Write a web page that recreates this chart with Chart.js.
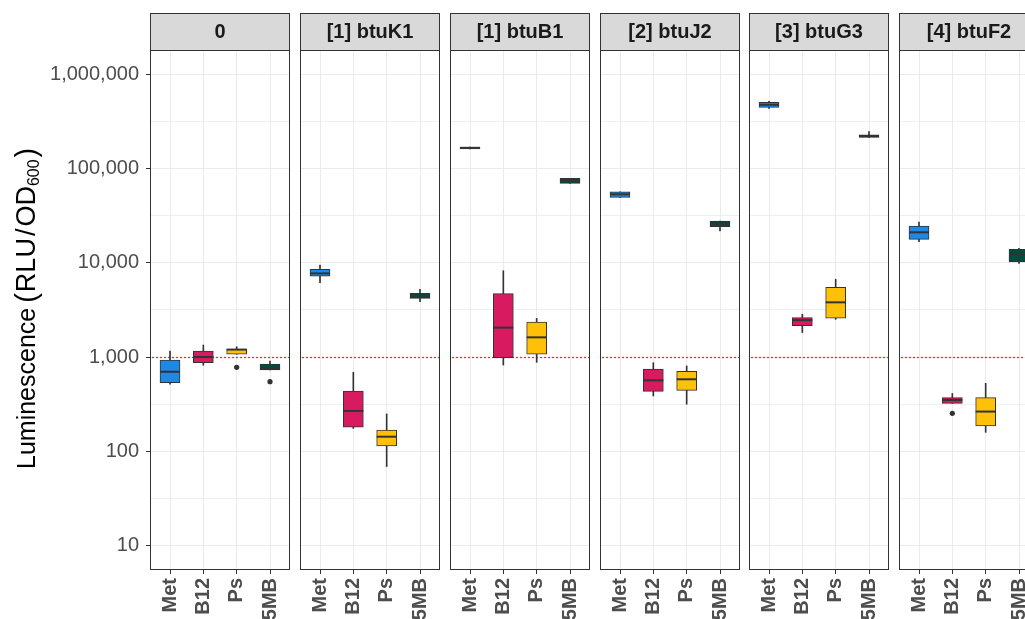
<!DOCTYPE html>
<html>
<head>
<meta charset="utf-8">
<script src="https://cdn.jsdelivr.net/npm/chart.js@4.4.1/dist/chart.umd.min.js"></script>
<style>
  html, body { margin: 0; padding: 0; background: #ffffff; overflow: hidden; }
  #wrap { position: relative; width: 1025px; height: 619px; overflow: hidden; background: #ffffff; }
  #wrap canvas { position: absolute; top: 0; }
</style>
</head>
<body>
<div id="wrap"></div>
<script>
// Facets (strains) and treatments on the x axis of every facet
const strains = ["0", "[1] btuK1", "[1] btuB1", "[2] btuJ2", "[3] btuG3", "[4] btuF2"];
const treatments = ["Met", "B12", "Ps", "5MB"];
const boxColors = ["#1E88E5", "#D81B60", "#FFC107", "#004D40"];

// Box-plot statistics, one row per strain, one column per treatment (RLU / OD600)
const whiskerLow  = [[517, 818, 1069, 729], [6140, 175, 69, 3860], [161000, 822, 879, 69300], [49300, 386, 316, 21700], [433000, 1820, 2510, 213000], [16700, 323, 159, 9840]];
const lowerQuartile = [[535, 871, 1069, 729], [7220, 180, 114, 4190], [161000, 984, 1069, 69300], [49300, 433, 443, 24100], [444000, 2150, 2590, 213000], [17700, 323, 186, 10200]];
const medians = [[698, 1000, 1200, 760], [7710, 268, 143, 4470], [165000, 2050, 1617, 73900], [53100, 566, 581, 25900], [473000, 2460, 3800, 220000], [21000, 350, 264, 12400]];
const upperQuartile = [[930, 1158, 1207, 843], [8490, 436, 168, 4730], [168000, 4700, 2350, 78400], [56600, 746, 705, 27700], [501000, 2620, 5480, 227000], [24500, 371, 371, 13900]];
const whiskerHigh = [[1158, 1340, 1286, 907], [9440, 689, 249, 5220], [168000, 8220, 2570, 78400], [56600, 871, 804, 27700], [514000, 2840, 6670, 245000], [27000, 411, 526, 14200]];
const outliers = [[[], [], [778], [548]], [[], [], [], []], [[], [], [], []], [[], [], [], []], [[], [], [], []], [[], [253], [], []]];

// Axis ticks and the reference level
const yTickValues = [10, 100, 1000, 10000, 100000, 1000000];
const yMinorValues = [31.62, 316.2, 3162, 31623, 316228];
const thresholdValue = 1000;
const yMin = 5.52, yMax = 1800000;

Chart.defaults.font.family = "'Liberation Sans', Arial, Helvetica, sans-serif";

const wrap = document.getElementById('wrap');
const PANEL_W = 140, PANEL_TOP = 50, STRIP_TOP = 13, AXIS_H = 49, MARGIN = 15, H = 619;
const GRID = '#EBEBEB', DARK = '#333333';

function panelLeft(i) { return Math.round(150 + i * 149.85); }

const gridTicks = yTickValues.concat(yMinorValues).sort((a, b) => a - b);

// Strip, panel frame, medians and the dotted reference line
const facetDecor = {
  id: 'facetDecor',
  beforeDatasetsDraw(chart) {
    const { ctx, chartArea: a, scales: { y } } = chart;
    const yy = Math.round(y.getPixelForValue(thresholdValue)) + 0.5;
    ctx.save();
    ctx.strokeStyle = '#FF2A2A';
    ctx.lineWidth = 1.3;
    ctx.setLineDash([2, 2]);
    ctx.beginPath();
    ctx.moveTo(a.left + 2, yy);
    ctx.lineTo(a.right, yy);
    ctx.stroke();
    ctx.restore();
  },
  afterDatasetsDraw(chart) {
    const { ctx, scales: { x, y } } = chart;
    const i = chart.options.plugins.facetDecor.index;
    ctx.save();
    ctx.strokeStyle = DARK;
    ctx.lineWidth = 2;
    medians[i].forEach((m, k) => {
      const px = x.getPixelForValue(k + 1);
      const py = y.getPixelForValue(m);
      ctx.beginPath();
      ctx.moveTo(px - 10, py);
      ctx.lineTo(px + 10, py);
      ctx.stroke();
    });
    ctx.restore();
  },
  afterDraw(chart) {
    const { ctx, chartArea: a } = chart;
    const i = chart.options.plugins.facetDecor.index;
    ctx.save();
    ctx.strokeStyle = DARK;
    ctx.lineWidth = 1;
    ctx.strokeRect(a.left + 0.5, a.top + 0.5, a.right - a.left - 1, a.bottom - a.top - 1);
    ctx.fillStyle = '#D9D9D9';
    ctx.fillRect(a.left, STRIP_TOP, a.right - a.left, a.top - STRIP_TOP);
    ctx.strokeRect(a.left + 0.5, STRIP_TOP + 0.5, a.right - a.left - 1, a.top - STRIP_TOP);
    ctx.fillStyle = '#1A1A1A';
    ctx.font = "bold 20px 'Liberation Sans', Arial, sans-serif";
    ctx.textAlign = 'center';
    ctx.textBaseline = 'middle';
    ctx.fillText(strains[i], (a.left + a.right) / 2, (STRIP_TOP + a.top) / 2 + 1);
    if (i === 0) drawYTitle(ctx);
    ctx.restore();
  }
};

// Rotated y-axis title: Luminescence (RLU / OD600)
function drawYTitle(ctx) {
  const pieces = [
    { t: 'Luminescence', size: 25, dy: 0, gap: 0 },
    { t: '(', size: 29, dy: 1, gap: 5 },
    { t: 'RLU', size: 27, dy: 0, gap: 1 },
    { t: '/', size: 27, dy: 0, gap: 2 },
    { t: 'OD', size: 27, dy: 0, gap: 2 },
    { t: '600', size: 16, dy: 4, gap: 0 },
    { t: ')', size: 29, dy: 1, gap: 2 }
  ];
  ctx.save();
  ctx.translate(35, 469);
  ctx.rotate(-Math.PI / 2);
  ctx.fillStyle = '#000000';
  ctx.textAlign = 'left';
  ctx.textBaseline = 'alphabetic';
  let pos = 0;
  pieces.forEach(p => {
    pos += p.gap;
    ctx.font = p.size + "px 'Liberation Sans', Arial, sans-serif";
    ctx.fillText(p.t, pos, p.dy);
    pos += ctx.measureText(p.t).width;
  });
  ctx.restore();
}

function makePanel(i) {
  const first = i === 0;
  const left = panelLeft(i);
  const canvasLeft = first ? 0 : left - MARGIN;
  const canvasW = first ? left + PANEL_W + MARGIN : PANEL_W + 2 * MARGIN;
  const cv = document.createElement('canvas');
  cv.width = canvasW; cv.height = H;
  cv.style.left = canvasLeft + 'px';
  cv.style.width = canvasW + 'px';
  cv.style.height = H + 'px';
  wrap.appendChild(cv);

  const outlierPts = [];
  outliers[i].forEach((list, k) => list.forEach(v => outlierPts.push({ x: k + 1, y: v })));

  new Chart(cv, {
    type: 'bar',
    data: {
      datasets: [
        {
          label: 'whiskers',
          data: treatments.map((t, k) => ({ x: k + 1, y: [whiskerLow[i][k], whiskerHigh[i][k]] })),
          backgroundColor: DARK,
          borderWidth: 0,
          barThickness: 1,
          grouped: false,
          order: 3
        },
        {
          label: 'boxes',
          data: treatments.map((t, k) => ({ x: k + 1, y: [lowerQuartile[i][k], upperQuartile[i][k]] })),
          backgroundColor: boxColors,
          borderColor: DARK,
          borderWidth: 1,
          borderSkipped: false,
          barThickness: 20,
          grouped: false,
          order: 2
        },
        {
          type: 'scatter',
          label: 'outliers',
          data: outlierPts,
          pointRadius: 2.6,
          backgroundColor: DARK,
          borderWidth: 0,
          order: 1
        }
      ]
    },
    options: {
      responsive: false,
      animation: false,
      devicePixelRatio: 1,
      events: [],
      layout: { padding: { top: PANEL_TOP, bottom: 0, left: first ? 0 : MARGIN, right: MARGIN } },
      plugins: {
        legend: { display: false },
        tooltip: { enabled: false },
        facetDecor: { index: i }
      },
      scales: {
        x: {
          type: 'linear',
          min: 0.4,
          max: 4.6,
          offset: false,
          bounds: 'data',
          afterBuildTicks: s => { s.ticks = treatments.map((t, k) => ({ value: k + 1 })); },
          afterFit: s => { s.height = AXIS_H; },
          ticks: {
            autoSkip: false,
            minRotation: 90,
            maxRotation: 90,
            padding: 4,
            color: '#4D4D4D',
            font: { size: 20, weight: 'bold' },
            callback: v => treatments[Math.round(v) - 1] || ''
          },
          grid: { offset: false, color: GRID, lineWidth: 1, tickLength: 4, tickColor: DARK, tickWidth: 1 },
          border: { display: false }
        },
        y: {
          type: 'logarithmic',
          min: yMin,
          max: yMax,
          bounds: 'data',
          afterBuildTicks: s => { s.ticks = gridTicks.map(v => ({ value: v, major: yTickValues.includes(v) })); },
          afterFit: s => { s.width = first ? 150 : 0; },
          ticks: {
            display: first,
            autoSkip: false,
            padding: 7,
            color: '#4D4D4D',
            font: { size: 20 },
            callback: v => yTickValues.includes(v) ? v.toLocaleString('en-US') : ''
          },
          grid: {
            color: GRID,
            lineWidth: c => (c.tick && yTickValues.includes(c.tick.value)) ? 1 : 0.8,
            drawTicks: first,
            tickLength: 4,
            tickWidth: 1,
            tickColor: c => (c.tick && yTickValues.includes(c.tick.value)) ? DARK : 'rgba(0,0,0,0)'
          },
          border: { display: false }
        }
      }
    },
    plugins: [facetDecor]
  });
}

strains.forEach((s, i) => makePanel(i));
</script>
</body>
</html>
